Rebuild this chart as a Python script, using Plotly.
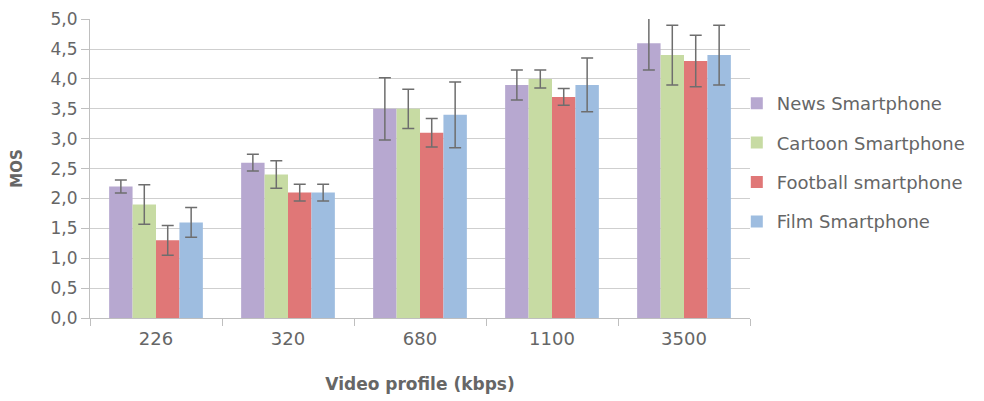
import plotly.graph_objects as go

categories = ["226", "320", "680", "1100", "3500"]
series_names = ["News Smartphone", "Cartoon Smartphone", "Football smartphone", "Film Smartphone"]
news = [2.2, 2.6, 3.5, 3.9, 4.6]
cartoon = [1.9, 2.4, 3.5, 4.0, 4.4]
football = [1.3, 2.1, 3.1, 3.7, 4.3]
film = [1.6, 2.1, 3.4, 3.9, 4.4]
news_err = [0.11, 0.14, 0.52, 0.25, 0.45]
cartoon_err = [0.33, 0.23, 0.33, 0.15, 0.5]
football_err = [0.25, 0.14, 0.24, 0.14, 0.43]
film_err = [0.25, 0.14, 0.55, 0.45, 0.5]
y_ticks = [0, 0.5, 1.0, 1.5, 2.0, 2.5, 3.0, 3.5, 4.0, 4.5, 5.0]
y_tick_labels = ["0,0", "0,5", "1,0", "1,5", "2,0", "2,5", "3,0", "3,5", "4,0", "4,5", "5,0"]

colors = ["#B7A8D0", "#C7DBA3", "#E07777", "#9EBDE0"]
values = [news, cartoon, football, film]
errors = [news_err, cartoon_err, football_err, film_err]

FONT = "DejaVu Sans"
GRAY = "#666666"
FS = 18

fig = go.Figure()
for name, vals, errs, col in zip(series_names, values, errors, colors):
    fig.add_trace(go.Bar(
        x=categories, y=vals, name=name, legendgroup=name,
        marker=dict(color=col, line=dict(width=0)),
        error_y=dict(type="data", array=errs, visible=True,
                     color="#6E6E6E", thickness=1.5, width=6),
    ))

fig.update_layout(
    width=984, height=401,
    margin=dict(l=82, r=242, t=11, b=91, autoexpand=False),
    paper_bgcolor="white", plot_bgcolor="white",
    barmode="group", bargap=0.29, bargroupgap=0,
    font=dict(family=FONT, size=FS, color=GRAY),
    legend=dict(x=0.980, y=0.52, yanchor="middle", xanchor="left",
                bgcolor="rgba(0,0,0,0)",
                font=dict(family=FONT, size=FS, color=GRAY),
                traceorder="grouped", tracegroupgap=13, itemwidth=30),
    showlegend=True,
)
fig.update_xaxes(
    type="category", automargin=False,
    showline=True, linecolor="#BFBFBF", linewidth=1,
    ticks="outside", tickson="boundaries", ticklen=7, tickcolor="#BFBFBF",
    ticklabelstandoff=4,
    showgrid=False,
    tickfont=dict(family=FONT, size=FS, color=GRAY),
    title=dict(text="<b>Video profile (kbps)</b>", font=dict(family=FONT, size=17, color=GRAY), standoff=30),
)
fig.update_yaxes(
    automargin=False, ticklabeloverflow="allow",
    range=[0, 5.004], tickvals=y_ticks, ticktext=y_tick_labels,
    showline=True, linecolor="#BFBFBF", linewidth=1,
    ticks="outside", ticklen=8, tickcolor="#BFBFBF",
    showgrid=True, gridcolor="#CFCFCF", gridwidth=1,
    zeroline=False,
    tickfont=dict(family=FONT, size=17, color=GRAY),
    title=dict(text="<b>MOS</b>", font=dict(family=FONT, size=15, color=GRAY), standoff=27),
)

fig.write_html("out.html")
